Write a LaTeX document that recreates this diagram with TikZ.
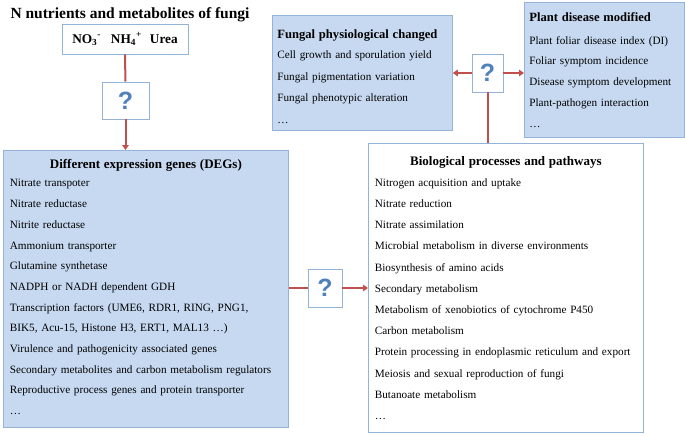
\documentclass[tikz,border=0pt]{standalone}
\usepackage{fontspec}
\setmainfont{Liberation Serif}
\newfontfamily\qfont{Liberation Sans}
\usetikzlibrary{arrows.meta}
\definecolor{boxfill}{HTML}{C6D9F1}
\definecolor{boxline}{HTML}{95B3D7}
\definecolor{linkred}{HTML}{C0504D}
\definecolor{qblue}{HTML}{4F81BD}
\newcommand\Ttl[1]{{\fontsize{13}{16}\selectfont\bfseries #1}}
\newcommand\Ttls[1]{{\fontsize{12.6}{16}\selectfont\bfseries #1}}
\tikzset{
	box/.style = {
		draw = boxline,
		fill = boxfill,
		rectangle,
		line width = 0.8pt,
		anchor = north west,
		inner xsep = 6pt,
		inner ysep = 0pt,
		align = left,
		font = \fontsize{11.2}{20.7}\selectfont
	},
	qbox/.style = {
		draw = boxline,
		fill = white,
		rectangle,
		line width = 0.8pt,
		text = qblue,
		font = \qfont\bfseries\fontsize{25}{25}\selectfont
	},
	link/.style = {draw = linkred, line width = 2pt},
	arr/.style = {link, -{Triangle[length = 5pt, width = 6.5pt]}}
}

\begin{document}
\begin{tikzpicture}[x = 1pt, y = -1pt]
    \useasboundingbox (0, 0) rectangle (685, 436) ;

    \node [anchor = base west, font = \fontsize{15.5}{18}\selectfont\bfseries] (title) at (7, 19) {N nutrients and metabolites of fungi} ;
    \node [box, fill = white, anchor = center, minimum width = 126pt, minimum height = 30pt, font = \fontsize{13.3}{15}\selectfont\bfseries] (nutri) at (125, 39)
        {NO\textsubscript{3}\textsuperscript{-}\hspace{10pt}NH\textsubscript{4}\textsuperscript{+}\hspace{8pt}Urea} ;

    % question boxes
    \node [qbox, minimum width = 47pt, minimum height = 37pt] (qa) at (125.5, 100.5) {?} ;
    \node [qbox, minimum width = 34pt, minimum height = 38pt] (qb) at (325, 288) {?} ;
    \node [qbox, minimum width = 31pt, minimum height = 38pt] (qc) at (487.5, 73) {?} ;

    \node [box, minimum width = 285pt, minimum height = 277pt, text width = 272pt] (deg) at (3, 150)
        {\makebox[\hsize]{\Ttl{Different expression genes (DEGs)}}\\[-2pt]
        Nitrate transpoter\\
        Nitrate reductase\\
        Nitrite reductase\\
        Ammonium transporter\\
        Glutamine synthetase\\
        NADPH or NADH dependent GDH\\
        Transcription factors (UME6, RDR1, RING, PNG1,\\
        BIK5, Acu-15, Histone H3, ERT1, MAL13 \dots)\\
        Virulence and pathogenicity associated genes\\
        Secondary metabolites and carbon metabolism regulators\\
        Reproductive process genes and protein transporter\\
        \dots\rule[-4pt]{0pt}{4pt}} ;

    \node [box, fill = white, minimum width = 275pt, minimum height = 289pt, text width = 262pt, font = \fontsize{11.2}{21.2}\selectfont] (bio) at (368, 143)
        {\makebox[\hsize]{\Ttl{Biological processes and pathways}}\\
        Nitrogen acquisition and uptake\\
        Nitrate reduction\\
        Nitrate assimilation\\
        Microbial metabolism in diverse environments\\
        Biosynthesis of amino acids\\
        Secondary metabolism\\
        Metabolism of xenobiotics of cytochrome P450\\
        Carbon metabolism\\
        Protein processing in endoplasmic reticulum and export\\
        Meiosis and sexual reproduction of fungi\\
        Butanoate metabolism\\
        \dots} ;

    \node [box, minimum width = 180pt, minimum height = 115pt, text width = 170pt, inner xsep = 5pt, font = \fontsize{11.2}{21.5}\selectfont] (fung) at (272, 15)
        {\rule{0pt}{16pt}\Ttls{Fungal physiological changed}\\[-1pt]
        Cell growth and sporulation yield\\
        Fungal pigmentation variation\\
        Fungal phenotypic alteration\\
        \dots} ;

    \node [box, minimum width = 159pt, minimum height = 135pt, text width = 150pt, inner xsep = 5pt] (plant) at (524, 2)
        {\Ttls{Plant disease modified}\\[2pt]
        Plant foliar disease index (DI)\\
        Foliar symptom incidence\\
        Disease symptom development\\
        Plant-pathogen interaction\\
        \dots} ;

    \draw [link] (nutri) -- (qa) ;
    \draw [arr] (qa) -- (qa |- deg.north) ;
    \draw [link] (deg.east |- qb) -- (qb) ;
    \draw [arr] (qb) -- (bio.west |- qb) ;
    \draw [arr] (qc) -- (fung.east |- qc) ;
    \draw [arr] (qc) -- (plant.west |- qc) ;
    \draw [link] (qc) -- (qc |- bio.north) ;
\end{tikzpicture}
\end{document}
